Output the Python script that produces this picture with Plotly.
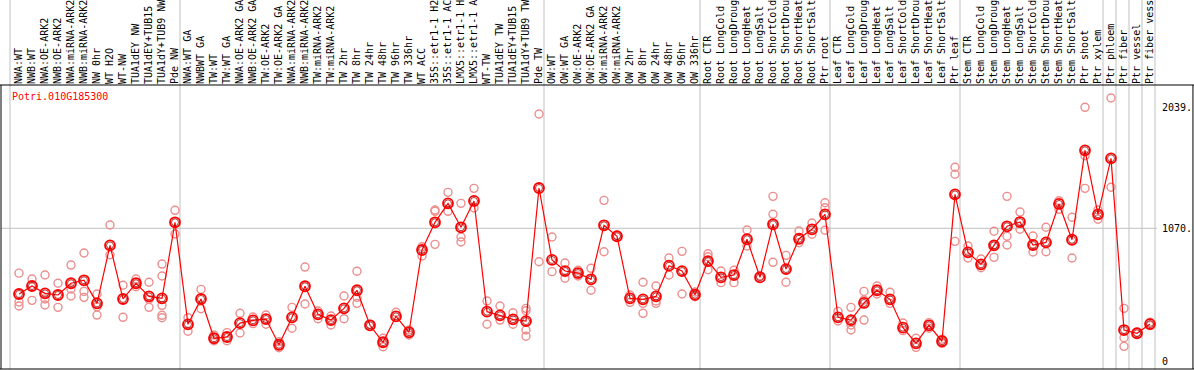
import plotly.graph_objects as go

title = "Potri.010G185300"

categories = [
    "NWA:WT", "NWB:WT", "NWA:OE-ARK2", "NWB:OE-ARK2", "NWA:miRNA-ARK2", "NWB:miRNA-ARK2",
    "NW 0hr", "WT H2O", "WT-NW", "TUA1dEY NW", "TUA1dEY+TUB15 NW", "TUA1dY+TUB9 NW", "Pde NW",
    "NWA:WT GA", "NWBWT GA", "TW:WT", "TW:WT GA", "NWA:OE-ARK2 GA", "NWB:OE-ARK2 GA",
    "TW:OE-ARK2", "TW:OE-ARK2 GA", "NWA:miRNA-ARK2 GA", "NWB:miRNA-ARK2 GA", "TW:miRNA-ARK2",
    "TW:miRNA-ARK2 GA", "TW 2hr", "TW 8hr", "TW 24hr", "TW 48hr", "TW 96hr", "TW 336hr", "WT ACC",
    "35S::etr1-1 H2O", "35S::etr1-1 ACC", "LMX5::etr1-1 H2O", "LMX5::etr1-1 ACC", "WT-TW",
    "TUA1dEY TW", "TUA1dEY+TUB15 TW", "TUA1dY+TUB9 TW", "Pde TW",
    "OW:WT", "OW:WT GA", "OW:OE-ARK2", "OW:OE-ARK2 GA", "OW:miRNA-ARK2", "OW:miRNA-ARK2 GA",
    "OW 2hr", "OW 8hr", "OW 24hr", "OW 48hr", "OW 96hr", "OW 336hr",
    "Root CTR", "Root LongCold", "Root LongDrought", "Root LongHeat", "Root LongSalt",
    "Root ShortCold", "Root ShortDrought", "Root ShortHeat", "Root ShortSalt", "Ptr root",
    "Leaf CTR", "Leaf LongCold", "Leaf LongDrought", "Leaf LongHeat", "Leaf LongSalt",
    "Leaf ShortCold", "Leaf ShortDrought", "Leaf ShortHeat", "Leaf ShortSalt", "Ptr leaf",
    "Stem CTR", "Stem LongCold", "Stem LongDrought", "Stem LongHeat", "Stem LongSalt",
    "Stem ShortCold", "Stem ShortDrought", "Stem ShortHeat", "Stem ShortSalt", "Ptr shoot",
    "Ptr xylem", "Ptr phloem", "Ptr fiber", "Ptr vessel", "Ptr fiber vessel",
]

means = [
    543, 607, 548, 535, 629, 653, 468, 933, 503, 629, 524, 508, 1118,
    300, 503, 188, 198, 310, 332, 342, 136, 356, 605, 380, 334, 428, 573, 292, 156, 364, 236,
    896, 1118, 1270, 1078, 1289, 401, 372, 340, 326, 1393,
    816, 727, 711, 661, 1094, 1006, 508, 500, 524, 770, 727, 537,
    807, 677, 695, 982, 677, 1102, 743, 986, 1062, 1182,
    356, 334, 471, 573, 500, 273, 147, 292, 164, 1342,
    877, 781, 933, 1086, 1120, 936, 957, 1265, 978, 1695, 1182,
    1631, 254, 228, 302,
]

replicates = [
    [710, 479, 447], [663, 492], [695, 503, 455], [629, 436], [775, 583, 527],
    [872, 564, 516], [543, 441, 374], [1096, 858], [613, 356], [663, 601],
    [637, 500, 436], [783, 687, 452, 372, 353], [1214, 1024],
    [353, 244], [580, 425], [214, 168], [233, 168], [388, 230], [358, 305], [374, 300],
    [160, 112], [436, 268], [759, 463], [407, 345], [366, 294], [527, 345],
    [725, 516, 468], [300], [188, 120], [396], [254, 214], [922, 848],
    [1217, 1206, 941], [1358, 1206], [1270, 1000, 960], [1390, 1233], [487, 300],
    [447, 334], [393, 300], [428, 409, 254, 204], [1986, 802],
    [1000, 722], [791, 669], [733, 687], [749, 573], [1294, 882], [1014],
    [535, 476], [637, 468, 388], [607, 487, 468], [832, 695], [885, 543], [559, 521],
    [866, 842, 738], [727, 634], [733, 634], [1056, 928], [690], [1326, 1182, 797],
    [853, 637], [1048, 954], [1112, 1022], [1275, 1235, 1054],
    [404, 326], [436, 294, 254], [564, 495, 334], [607, 543], [557, 468], [310, 249],
    [188, 115], [313, 268], [180, 147], [1559, 1503, 965],
    [928, 832], [824, 754], [1046, 938, 837], [1326, 1006, 936], [1200, 1062],
    [1008, 880], [1078, 882], [1291, 1222], [1158, 832], [2040, 1652, 1390],
    [1217, 1142], [2115, 1399], [428, 192, 123], [236], [316, 289],
]

# index of the last category in each group (separators drawn after them)
group_ends = [12, 40, 52, 62, 72, 83, 84, 85, 86, 87]

y_ticks = [0, 1070, 2039]
y_tick_text = ["0", "1070.", "2039."]

idx = list(range(len(categories)))
rep_x = [i for i, reps in zip(idx, replicates) for _ in reps]
rep_y = [v for reps in replicates for v in reps]

MONO = "DejaVu Sans Mono"

fig = go.Figure()
fig.add_trace(go.Scatter(
    x=rep_x, y=rep_y, mode="markers",
    marker=dict(symbol="circle-open", size=8, color="#ec8e8e", line=dict(width=1.4)),
    hoverinfo="skip", showlegend=False,
))
fig.add_trace(go.Scatter(
    x=idx, y=means, mode="lines+markers",
    line=dict(color="#ff0000", width=1.2),
    marker=dict(symbol="circle-open", size=10, color="#ff0000", line=dict(width=1.8)),
    showlegend=False,
))
fig.add_trace(go.Scatter(
    x=idx, y=means, mode="markers",
    marker=dict(symbol="circle-open", size=7, color="#a00000", line=dict(width=0.8)),
    hoverinfo="skip", showlegend=False,
))

shapes = []
sep_positions = [-9 / 13] + [g + 5 / 13 for g in group_ends]
for xp in sep_positions:
    shapes.append(dict(type="line", xref="x", yref="paper", x0=xp, x1=xp, y0=0, y1=1.31,
                       line=dict(color="#c0c0c0", width=1), layer="below"))
shapes.append(dict(type="line", xref="paper", yref="y", x0=0, x1=1, y0=1070, y1=1070,
                   line=dict(color="#c0c0c0", width=1), layer="below"))
# frame
shapes.append(dict(type="line", xref="paper", yref="paper", x0=-0.01, x1=1.04, y0=1, y1=1,
                   line=dict(color="black", width=1)))
shapes.append(dict(type="line", xref="paper", yref="paper", x0=-0.01, x1=1.04, y0=0, y1=0,
                   line=dict(color="black", width=1)))
shapes.append(dict(type="line", xref="paper", yref="paper", x0=0, x1=0, y0=0, y1=1,
                   line=dict(color="black", width=1)))
shapes.append(dict(type="line", xref="paper", yref="paper", x0=1.0311, x1=1.0311, y0=0, y1=1,
                   line=dict(color="black", width=1)))

fig.update_layout(
    width=1194, height=370,
    margin=dict(l=1, r=37, t=85, b=1, autoexpand=False),
    paper_bgcolor="white", plot_bgcolor="white",
    shapes=shapes,
    xaxis=dict(
        side="top", range=[-18 / 13, 1138 / 13], automargin=False,
        tickmode="array", tickvals=idx, ticktext=categories,
        tickangle=-90, ticks="", showgrid=False, zeroline=False, showline=False,
        tickfont=dict(family=MONO, size=10, color="black"),
        ticklabelstandoff=0,
    ),
    yaxis=dict(
        side="right", range=[-58.5, 2219], automargin=False,
        tickmode="array", tickvals=y_ticks, ticktext=y_tick_text,
        ticks="", showgrid=False, zeroline=False, showline=False,
        tickfont=dict(family=MONO, size=10, color="black"),
        ticklabelstandoff=4,
    ),
    annotations=[dict(
        text=title, xref="paper", yref="paper", x=0.0075, y=0.96,
        xanchor="left", yanchor="middle", showarrow=False,
        font=dict(family=MONO, size=10, color="#ff0000"),
    )],
)

fig.write_html(
    "out.html",
    config={"displayModeBar": False},
    post_script="document.body.style.margin='0px';document.body.style.overflow='hidden';",
)
